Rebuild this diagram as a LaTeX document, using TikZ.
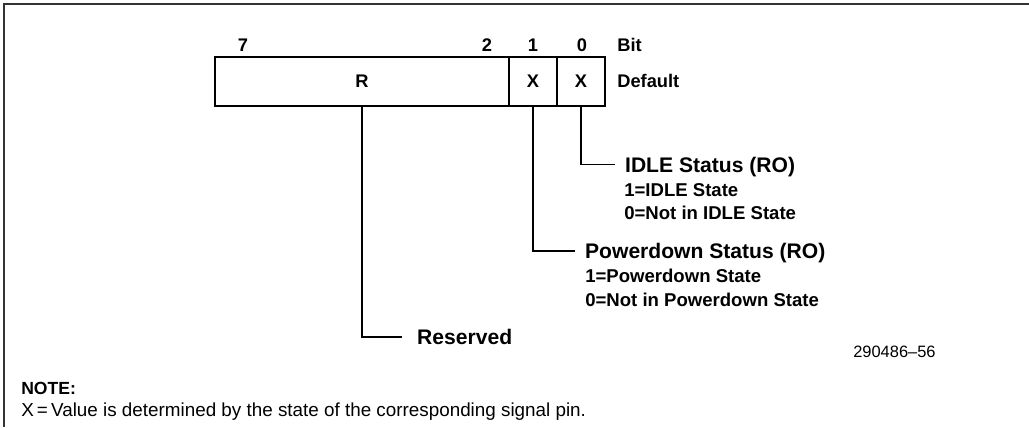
\documentclass[tikz,border=0pt]{standalone}
\usepackage{fontspec}
\setmainfont{Liberation Sans}
\usetikzlibrary{positioning}

\begin{document}
\begin{tikzpicture}[
  x=0.025cm, y=-0.025cm,
  field/.style={draw, line width=1.4pt, outer sep=0pt, inner sep=0pt, minimum height=1.233cm, font=\fontsize{13}{15}\selectfont\bfseries},
  bitnum/.style={inner sep=0pt, text height=9.3pt, text depth=0pt, font=\fontsize{13}{15}\selectfont\bfseries},
  title/.style={anchor=west, inner ysep=0pt, inner xsep=7pt, text height=10.7pt, text depth=0pt, font=\fontsize{15}{18}\selectfont\bfseries},
  detail/.style={anchor=west, inner sep=0pt, text height=9.4pt, text depth=0pt, font=\fontsize{13.2}{15}\selectfont\bfseries},
  leader/.style={line width=1.4pt},
  frame/.style={line width=1.4pt, black!80},
  note/.style={anchor=base west, inner sep=0pt, font=\fontsize{13.4}{16}\selectfont}
]
\useasboundingbox (0,0) rectangle (1029,427);

% ---- page frame (top and left rules only) ----
\draw[frame] (1029,4) -| (4,427);

% ---- register fields ----
\node[field, minimum width=7.35cm] (rfield) at (362,81.4) {R};
\node[field, minimum width=1.2cm, right=0pt of rfield] (f1) {X};
\node[field, minimum width=1.2cm, right=0pt of f1] (f0) {X};

% ---- bit numbers ----
\foreach \b/\x in {7/243, 2/487, 1/533, 0/582} {
  \node[bitnum] (bit\b) at (\x,45) {\b};
}
\node[bitnum, right=0.3cm of f0] (default) {Default};
\node[bitnum, anchor=west] (bitlbl) at (default.west |- bit0) {Bit};

% ---- field descriptions ----
\node[title] (idle) at (615,164.5) {IDLE Status (RO)};
\node[detail] (idle1) at (624,190) {1=IDLE State};
\node[detail] (idle0) at (624,213) {0=Not in IDLE State};

\node[title] (pwd) at (575,251) {Powerdown Status (RO)};
\node[detail] (pwd1) at (585,276) {1=Powerdown State};
\node[detail] (pwd0) at (585,300) {0=Not in Powerdown State};

\node[title, inner xsep=10.6pt] (reserved) at (402,337) {Reserved};

% ---- leaders ----
\draw[leader] (f0.south) |- (idle.west);
\draw[leader] (f1.south) |- (pwd.west);
\draw[leader] (rfield.south) |- (reserved.west);

% ---- figure number and note ----
\node[note, font=\fontsize{11.7}{14}\selectfont] (fignum) at (853,357) {290486--56};
\node[note, font=\fontsize{12.5}{15}\selectfont\bfseries] (notehead) at (21,394) {NOTE:};
\node[note] (notetext) at (21,416) {X\,=\,Value is determined by the state of the corresponding signal pin.};
\end{tikzpicture}
\end{document}
